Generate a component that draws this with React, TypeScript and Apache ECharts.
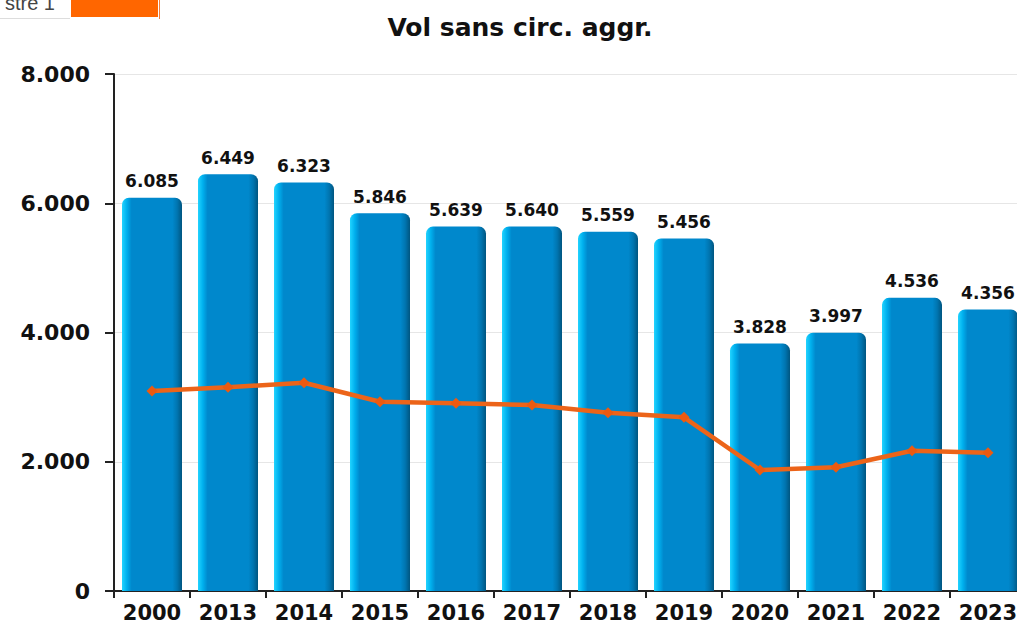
import React, { useEffect, useRef } from "react";
import * as echarts from "echarts";

const categories = ["2000", "2013", "2014", "2015", "2016", "2017", "2018", "2019", "2020", "2021", "2022", "2023"];
const barValues = [6085, 6449, 6323, 5846, 5639, 5640, 5559, 5456, 3828, 3997, 4536, 4356];
const lineValues = [3095, 3152, 3223, 2929, 2904, 2878, 2759, 2688, 1872, 1914, 2171, 2140];
const titleText = "Vol sans circ. aggr.";

const fmt = (v: number) => {
  if (v === 0) return "0";
  const s = Math.round(v).toString();
  return s.length > 3 ? s.slice(0, s.length - 3) + "." + s.slice(s.length - 3) : s;
};

export default function App() {
  const ref = useRef<HTMLDivElement>(null);
  useEffect(() => {
    if (!ref.current) return;
    const chart = echarts.init(ref.current, null, { renderer: "svg" });
    const font = "DejaVu Sans";
    chart.setOption({
      animation: false,
      backgroundColor: "#ffffff",
      title: {
        text: titleText,
        left: 515,
        textAlign: "center",
        top: 10,
        textStyle: { fontFamily: font, fontWeight: "bold", fontSize: 25, color: "#111" },
      },
      graphic: [
        { type: "line", shape: { x1: 0, y1: 18.5, x2: 70, y2: 18.5 }, style: { stroke: "#dddddd", lineWidth: 1 } },
        {
          type: "text",
          style: { text: "stre 1", x: 55, y: 13, align: "right", verticalAlign: "bottom", font: "20px 'Liberation Sans'", fill: "#444" },
        },
        { type: "rect", shape: { x: 71, y: 0, width: 87, height: 17 }, style: { fill: "#ff6600" } },
        { type: "line", shape: { x1: 159.5, y1: 0, x2: 159.5, y2: 19 }, style: { stroke: "#f08040", lineWidth: 1 } },
      ],
      grid: { left: 114, top: 74, width: 912, height: 517 },
      xAxis: {
        type: "category",
        data: categories,
        axisLine: { lineStyle: { color: "#222", width: 2 } },
        axisTick: { show: true, length: 7, lineStyle: { color: "#222", width: 2 } },
        axisLabel: { interval: 0, hideOverlap: false, fontFamily: font, fontWeight: "bold", fontSize: 21, color: "#111", margin: 11 },
      },
      yAxis: {
        type: "value",
        min: 0,
        max: 8000,
        interval: 2000,
        axisLine: { show: true, lineStyle: { color: "#222", width: 2 } },
        axisTick: { show: true, length: 9, lineStyle: { color: "#222", width: 2 } },
        axisLabel: { fontFamily: font, fontWeight: "bold", fontSize: 22, color: "#111", margin: 24, formatter: (v: number) => fmt(v) },
        splitLine: { lineStyle: { color: "#e6e6e6", width: 1 } },
      },
      series: [
        {
          type: "bar",
          data: barValues,
          barWidth: 60,
          itemStyle: {
            borderRadius: [7, 7, 0, 0],
            color: new echarts.graphic.LinearGradient(0, 0, 1, 0, [
              { offset: 0, color: "#22d4ff" },
              { offset: 0.08, color: "#00b0ee" },
              { offset: 0.16, color: "#0088cc" },
              { offset: 0.84, color: "#0088cc" },
              { offset: 0.92, color: "#0075b0" },
              { offset: 1, color: "#005580" },
            ]),
          },
          label: {
            show: true,
            position: "top",
            distance: 8,
            fontFamily: font,
            fontWeight: "bold",
            fontSize: 17,
            color: "#111",
            formatter: (p: any) => fmt(p.value),
          },
        },
        {
          type: "line",
          data: lineValues,
          symbol: "diamond",
          symbolSize: 11,
          lineStyle: { color: "#ec6419", width: 4.5 },
          itemStyle: { color: "#ec5a10" },
          z: 5,
        },
      ],
    });
    return () => chart.dispose();
  }, []);
  return (
    <div style={{ position: "absolute", left: 0, top: 0, width: 1017, height: 627, overflow: "hidden" }}>
      <div ref={ref} style={{ width: 1040, height: 627 }} />
    </div>
  );
}
